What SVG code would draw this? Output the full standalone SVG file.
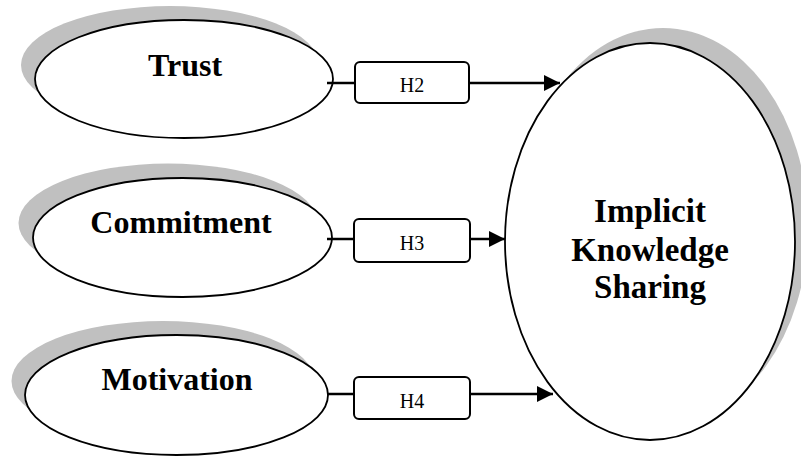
<svg xmlns="http://www.w3.org/2000/svg" width="801" height="456" viewBox="0 0 801 456">
  <defs>
    <marker id="arrow" viewBox="0 0 16 16" refX="16" refY="8" markerWidth="16" markerHeight="16" markerUnits="userSpaceOnUse" orient="auto">
      <path d="M0,0 L16,8 L0,16 Z" fill="#000"/>
    </marker>
  </defs>
  <style>
    .shadow { fill: #c0c0c0; stroke: none; }
    .node { fill: #fff; stroke: #000; stroke-width: 1.8; }
    .label { font-family: "Liberation Serif", "Times New Roman", serif; font-weight: bold; font-size: 32px; fill: #000; text-anchor: middle; }
    .hbox { fill: #fff; stroke: #000; stroke-width: 2; }
    .htext { font-family: "Liberation Serif", "Times New Roman", serif; font-size: 20px; fill: #000; text-anchor: middle; }
    .line { fill: none; stroke: #000; stroke-width: 2.5; }
  </style>
  <rect width="801" height="456" fill="#fff"/>

  <g id="trust">
    <ellipse class="shadow" cx="170" cy="65" rx="149" ry="59"/>
    <ellipse class="node" cx="184" cy="79" rx="149" ry="59"/>
    <text class="label" x="185" y="76">Trust</text>
  </g>

  <g id="commitment">
    <ellipse class="shadow" cx="168" cy="223" rx="149.5" ry="59.5"/>
    <ellipse class="node" cx="182.5" cy="237.5" rx="149.5" ry="59.5"/>
    <text class="label" x="181" y="233">Commitment</text>
  </g>

  <g id="motivation">
    <ellipse class="shadow" cx="163" cy="381" rx="151.5" ry="60"/>
    <ellipse class="node" cx="176.5" cy="395" rx="151.5" ry="60"/>
    <text class="label" x="177" y="390">Motivation</text>
  </g>

  <g id="implicit-knowledge-sharing">
    <ellipse class="shadow" cx="663" cy="226.5" rx="145" ry="198.5"/>
    <ellipse class="node" cx="650" cy="241.5" rx="145" ry="198.5"/>
    <text class="label" font-size="33" x="650" y="222" style="font-size:33px">Implicit</text>
    <text class="label" x="650" y="261" style="font-size:33px">Knowledge</text>
    <text class="label" x="650" y="298" style="font-size:33px">Sharing</text>
  </g>

  <g id="connectors">
    <line class="line" x1="327" y1="83" x2="355" y2="83"/>
    <line class="line" x1="469" y1="83" x2="560" y2="83" marker-end="url(#arrow)"/>
    <line class="line" x1="327" y1="239" x2="354" y2="239"/>
    <line class="line" x1="470" y1="239" x2="505" y2="239" marker-end="url(#arrow)"/>
    <line class="line" x1="327" y1="394" x2="354" y2="394"/>
    <line class="line" x1="470" y1="394" x2="553" y2="394" marker-end="url(#arrow)"/>
  </g>

  <g id="h2">
    <rect class="hbox" x="355" y="62" width="114" height="41" rx="5"/>
    <text class="htext" x="412" y="92">H2</text>
  </g>
  <g id="h3">
    <rect class="hbox" x="354" y="219" width="116" height="43" rx="5"/>
    <text class="htext" x="412" y="250">H3</text>
  </g>
  <g id="h4">
    <rect class="hbox" x="354" y="377" width="116" height="42" rx="5"/>
    <text class="htext" x="412" y="408">H4</text>
  </g>
</svg>
